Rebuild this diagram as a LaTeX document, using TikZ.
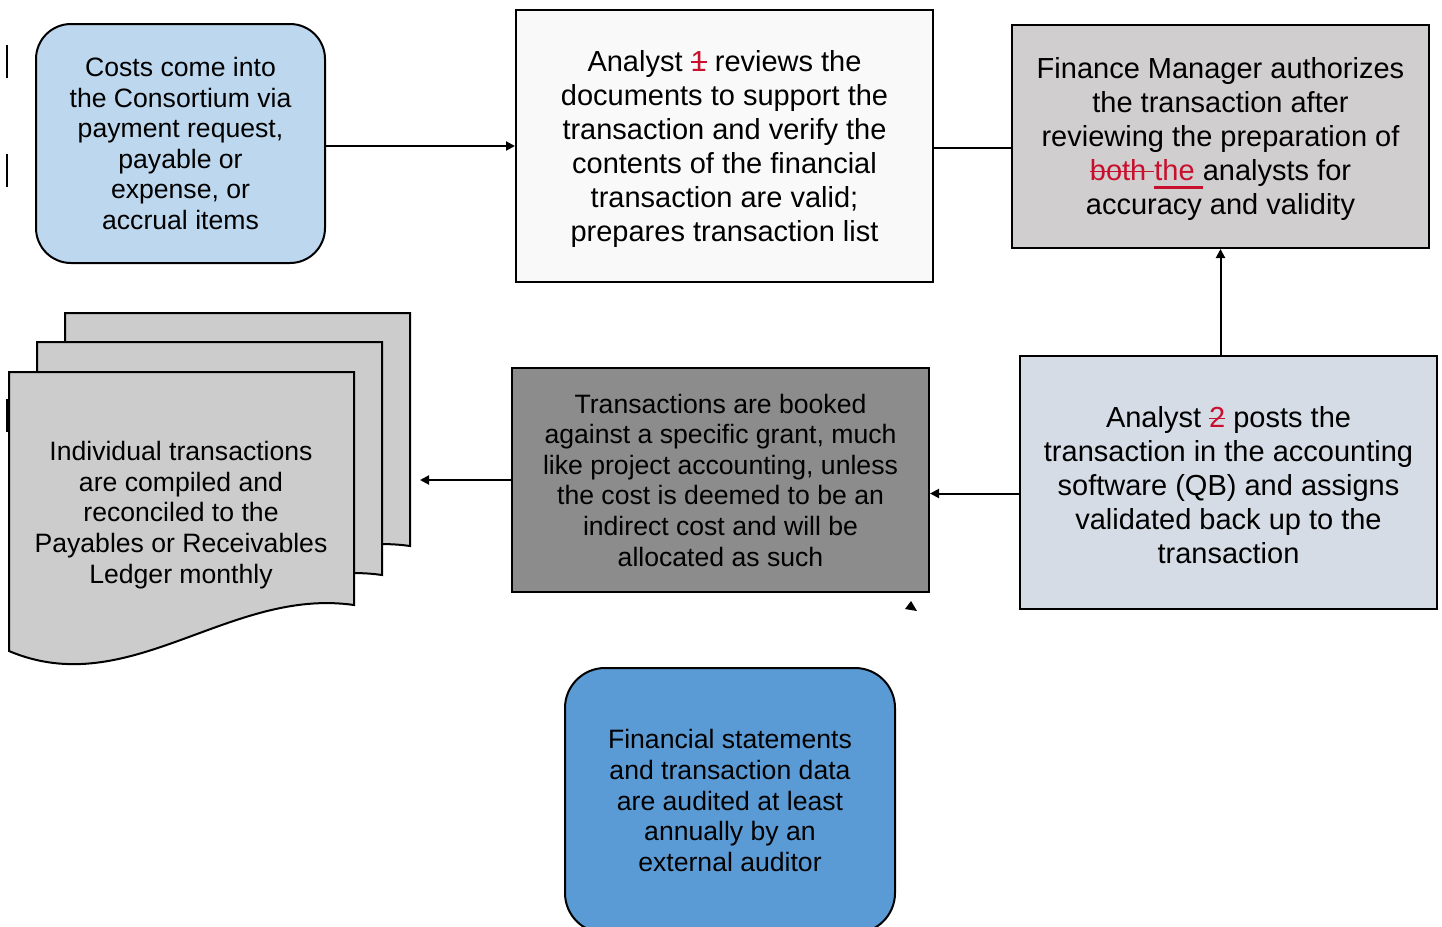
\documentclass[tikz,border=0pt]{standalone}
\usepackage{fontspec}
\setmainfont{Liberation Sans}
\usetikzlibrary{arrows.meta}

\definecolor{costblue}{HTML}{BDD7EE}
\definecolor{paleblue}{HTML}{D6DCE5}
\definecolor{auditblue}{HTML}{5B9BD5}
\definecolor{mgrgray}{HTML}{D0CECE}
\definecolor{bookgray}{HTML}{8C8C8C}
\definecolor{pagegray}{HTML}{CCCCCC}
\definecolor{offwhite}{HTML}{F9F9F9}
\definecolor{editred}{HTML}{C8102E}

% tracked-change marks
\newsavebox{\editbox}
\newcommand{\strk}[1]{\sbox{\editbox}{#1}\rlap{\rule[0.3em]{\wd\editbox}{1.6pt}}\usebox{\editbox}}
\newcommand{\undl}[1]{\sbox{\editbox}{#1}\rlap{\rule[-0.26em]{\wd\editbox}{2.2pt}}\usebox{\editbox}}
\newcommand{\topstrut}{\rule{0pt}{27pt}}

\begin{document}
\begin{tikzpicture}[x=1pt, y=-1pt,
  procbox/.style={draw, line width=2pt, inner sep=0pt, align=center,
    font=\fontsize{29}{34}\selectfont},
  smallbox/.style={draw, line width=2pt, inner sep=0pt, align=center,
    font=\fontsize{26.6}{30.6}\selectfont},
  docpage/.style={draw, line width=2pt, fill=pagegray, line join=miter},
  flow/.style={line width=2pt, -{Triangle[length=9pt,width=9pt]}}]
  \useasboundingbox (0,0) rectangle (1442,926);
  \clip (0,0) rectangle (1442,926);

  % Margin bars at the left edge
  \foreach \y in {45,154,399} {
    \draw[line width=2pt] (7,\y) -- (7,\y+33);
  }

  % Stacked ledger pages (back to front)
  \foreach \dx/\dy in {65/313, 37/342, 9/372} {
    \draw[docpage, shift={(\dx,\dy)}] (0,0) -- (345,0) -- (345,233)
      .. controls (220,215) and (120,330) .. (0,279) -- cycle;
  }
  \node[align=center, font=\fontsize{26.6}{30.6}\selectfont] (ledger) at (181,515)
    {Individual transactions\\are compiled and\\reconciled to the\\Payables or Receivables\\Ledger monthly};
  \coordinate (ledgerin) at (420,480);

  % Process boxes
  \node[smallbox, fill=costblue, rounded corners=35pt, minimum width=289pt, minimum height=239pt]
    (costs) at (180.5,143.5)
    {Costs come into\\the Consortium via\\payment request,\\payable or\\expense, or\\accrual items};
  \node[procbox, fill=offwhite, minimum width=417pt, minimum height=272pt]
    (analyst1) at (724.5,146)
    {\topstrut Analyst {\color{editred}\strk{1}} reviews the\\documents to support the\\transaction and verify the\\contents of the financial\\transaction are valid;\\prepares transaction list};
  \node[procbox, fill=mgrgray, minimum width=417pt, minimum height=223pt]
    (manager) at (1220.5,136.5)
    {\topstrut Finance Manager authorizes\\the transaction after\\reviewing the preparation of\\{\color{editred}\strk{both\ }\undl{the\ }}analysts for\\accuracy and validity};
  \node[procbox, fill=paleblue, minimum width=417pt, minimum height=253pt]
    (analyst2) at (1228.5,482.5)
    {\topstrut Analyst {\color{editred}\strk{2}} posts the\\transaction in the accounting\\software (QB) and assigns\\validated back up to the\\transaction};
  \node[smallbox, fill=bookgray, minimum width=417pt, minimum height=224pt]
    (booked) at (720.5,480)
    {Transactions are booked\\against a specific grant, much\\like project accounting, unless\\the cost is deemed to be an\\indirect cost and will be\\allocated as such};
  \node[smallbox, fill=auditblue, rounded corners=40pt, minimum width=330pt, minimum height=265pt]
    (audit) at (730,800.5)
    {Financial statements\\and transaction data\\are audited at least\\annually by an\\external auditor};

  % Connectors
  \draw[flow] (costs.east |- analyst1.west) -- (analyst1.west);
  \draw[line width=2pt] ([yshift=-2pt]analyst1.east) -- ([yshift=-2pt]analyst1.east -| manager.west);
  \draw[flow] (analyst2.north -| manager.south) -- (manager.south);
  \draw[flow] ([yshift=-11pt]analyst2.west) -- ([yshift=-11pt]analyst2.west -| booked.east);
  \draw[flow] (booked.west) -- (ledgerin);

  % Stray arrow tip below the booking box
  \fill (911,601) -- (905,609) -- (917,611) -- cycle;
\end{tikzpicture}
\end{document}
